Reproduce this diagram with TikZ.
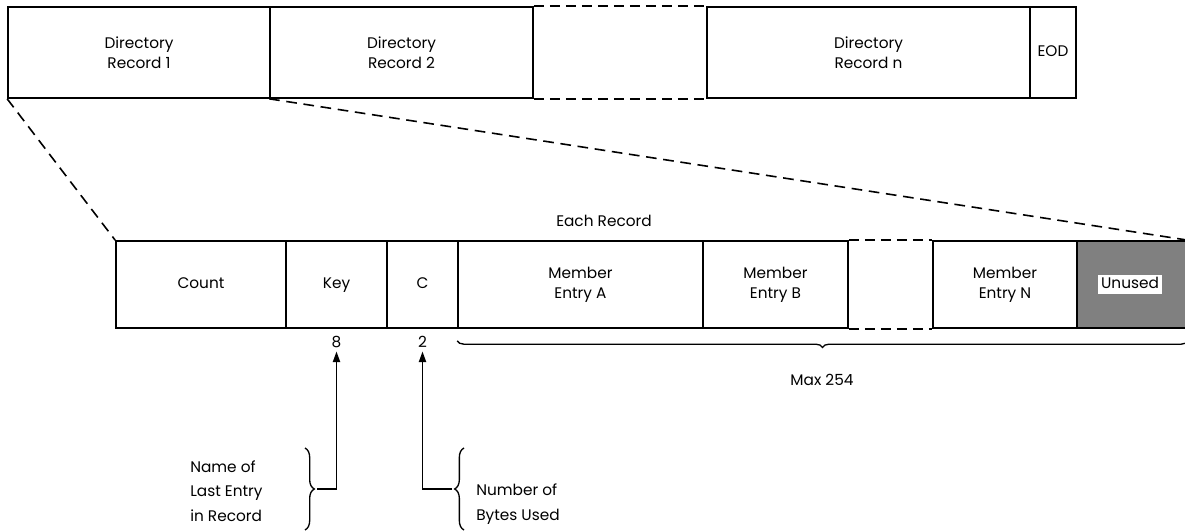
\documentclass[tikz,border=0pt]{standalone}
\usepackage{fontspec}
\setmainfont{Poppins}
\usetikzlibrary{arrows.meta,decorations.pathreplacing,calc}

\tikzset{
  cell/.style={draw, line width=1.25pt, inner sep=0pt, align=center,
    font=\fontsize{11.5}{15}\selectfont},
  oneline/.style={text height=1.55ex, text depth=0.35ex},
  gapline/.style={line width=1.25pt, dash pattern=on 7.5pt off 4.5pt},
  zoomline/.style={line width=1.2pt, dash pattern=on 8pt off 5pt},
  lbl/.style={font=\fontsize{11.5}{15}\selectfont, inner sep=1pt},
  note/.style={font=\fontsize{11.5}{18.5}\selectfont, align=left, inner sep=0pt},
  pointer/.style={line width=1pt, -{Triangle[length=8pt,width=5.5pt]}},
  bracket/.style={line width=1pt},
}

\begin{document}
\begin{tikzpicture}[x=0.75pt,y=-0.75pt]
\useasboundingbox (0,0) rectangle (1185,531);

% ---- directory: row of records
\node[cell, minimum width=262*0.75pt, minimum height=91*0.75pt] (r1) at (139,52.5) {Directory\\Record 1};
\node[cell, minimum width=263*0.75pt, minimum height=91*0.75pt] (r2) at (401.5,52.5) {Directory\\Record 2};
\node[cell, minimum width=323*0.75pt, minimum height=91*0.75pt] (rn) at (868.5,52.5) {Directory\\Record n};
\node[cell, oneline, minimum width=46*0.75pt, minimum height=91*0.75pt] (eod) at (1053,52.5) {EOD};
\draw[gapline] (r2.north east) -- (rn.north west);
\draw[gapline] (r2.south east) -- (rn.south west);

% ---- layout of each record
\node[lbl, oneline] (each) at (604,222) {Each Record};
\node[cell, oneline, minimum width=170*0.75pt, minimum height=87*0.75pt] (count) at (201,284.5) {Count};
\node[cell, oneline, minimum width=101*0.75pt, minimum height=87*0.75pt] (key) at (336.5,284.5) {Key};
\node[cell, oneline, minimum width=71*0.75pt, minimum height=87*0.75pt] (c) at (422.5,284.5) {C};
\node[cell, minimum width=245*0.75pt, minimum height=87*0.75pt] (ma) at (580.5,284.5) {Member\\Entry A};
\node[cell, minimum width=145*0.75pt, minimum height=87*0.75pt] (mb) at (775.5,284.5) {Member\\Entry B};
\node[cell, minimum width=144*0.75pt, minimum height=87*0.75pt] (mn) at (1005,284.5) {Member\\Entry N};
\node[cell, fill=black!50, minimum width=110*0.75pt, minimum height=87*0.75pt] (un) at (1132,284.5) {};
\node[lbl, oneline, fill=white, inner sep=2pt] (unl) at (1130,284.5) {Unused};
\draw[gapline] (mb.north east) -- (mn.north west);
\draw[gapline] (mb.south east) -- (mn.south west);

% ---- expansion lines from the directory to one record
\draw[zoomline] (r1.south west) -- (count.north west);
\draw[zoomline] (r2.south west) -- (un.north east);

% ---- sizes under the record
\node[lbl, oneline] (n8) at (key.south |- 0,343) {8};
\node[lbl, oneline] (n2) at (c.south |- 0,343) {2};
\draw[bracket, decorate, decoration={brace, mirror, amplitude=5pt}]
  ($(ma.south west)+(0,12)$) -- ($(un.south east)+(0,12)$);
\node[lbl, oneline] (max) at (822,381) {Max 254};

% ---- notes
\node[note, anchor=west] (namenote) at (190,491) {Name of\\Last Entry\\in Record};
\node[note, anchor=west] (bytesnote) at (476,504) {Number of\\Bytes Used};
\draw[bracket, decorate, decoration={brace, amplitude=7pt}]
  (305,448) -- (305,530) coordinate[midway] (nb);
\draw[bracket, decorate, decoration={brace, amplitude=7pt}]
  (464,530) -- (464,448) coordinate[midway] (bb);
\draw[pointer] ($(nb)+(12,0)$) -| (n8.south);
\draw[pointer] ($(bb)+(-12,0)$) -| (n2.south);
\end{tikzpicture}
\end{document}
